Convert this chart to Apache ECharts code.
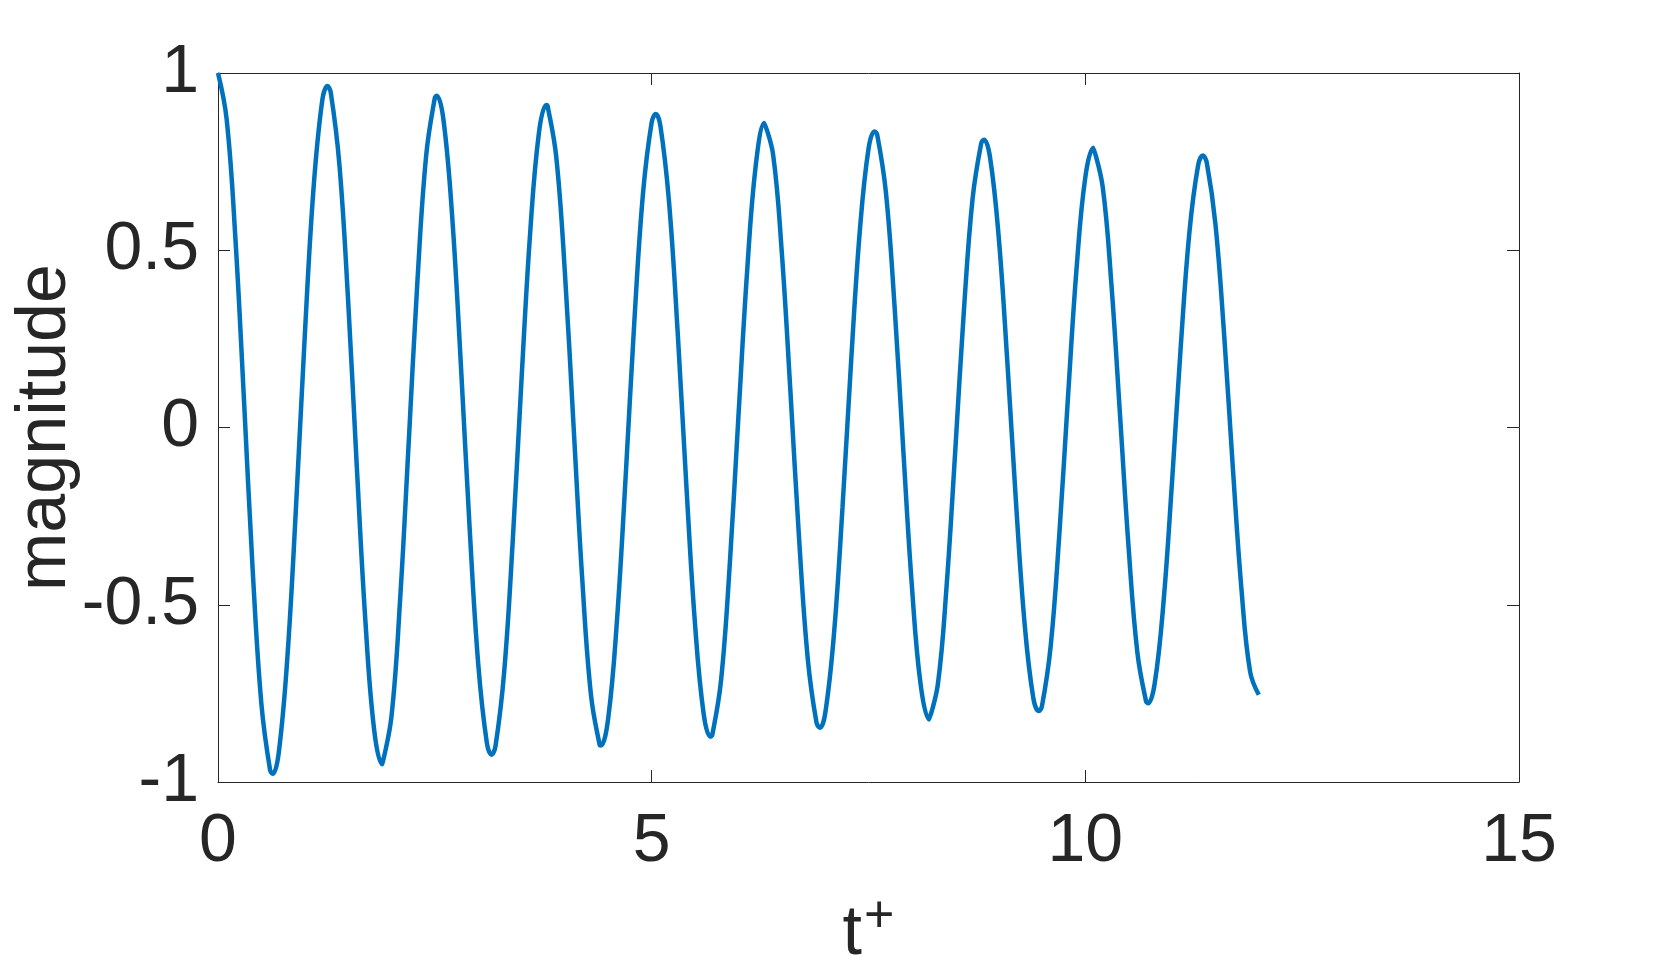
<!DOCTYPE html>
<html>
<head>
<meta charset="utf-8">
<script src="https://cdn.jsdelivr.net/npm/echarts@6/dist/echarts.min.js"></script>
<style>
  html, body { margin: 0; padding: 0; background: #fff; }
  #chart { width: 1680px; height: 974px; }
</style>
</head>
<body>
<div id="chart"></div>
<script>
// sample times (t+) and magnitudes
var tGrid = [
  0, 0.1, 0.2, 0.3, 0.4, 0.5, 0.6, 0.7, 0.8, 0.9,
  1.0, 1.1, 1.2, 1.3, 1.4, 1.5, 1.6, 1.7, 1.8, 1.9,
  2.0, 2.1, 2.2, 2.3, 2.4, 2.5, 2.6, 2.7, 2.8, 2.9,
  3.0, 3.1, 3.2, 3.3, 3.4, 3.5, 3.6, 3.7, 3.8, 3.9,
  4.0, 4.1, 4.2, 4.3, 4.4, 4.5, 4.6, 4.7, 4.8, 4.9,
  5.0, 5.1, 5.2, 5.3, 5.4, 5.5, 5.6, 5.7, 5.8, 5.9,
  6.0, 6.1, 6.2, 6.3, 6.4, 6.5, 6.6, 6.7, 6.8, 6.9,
  7.0, 7.1, 7.2, 7.3, 7.4, 7.5, 7.6, 7.7, 7.8, 7.9,
  8.0, 8.1, 8.2, 8.3, 8.4, 8.5, 8.6, 8.7, 8.8, 8.9,
  9.0, 9.1, 9.2, 9.3, 9.4, 9.5, 9.6, 9.7, 9.8, 9.9,
  10.0, 10.1, 10.2, 10.3, 10.4, 10.5, 10.6, 10.7, 10.8, 10.9,
  11.0, 11.1, 11.2, 11.3, 11.4, 11.5, 11.6, 11.7, 11.8, 11.9,
  12.0
];
var magGrid = [
  1.000, 0.869, 0.536, 0.076, -0.402, -0.779, -0.966, -0.918, -0.648, -0.222,
  0.256, 0.670, 0.919, 0.945, 0.741, 0.359, -0.109, -0.548, -0.852, -0.949,
  -0.815, -0.484, -0.037, 0.416, 0.767, 0.930, 0.867, 0.595, 0.179, -0.278,
  -0.666, -0.890, -0.898, -0.688, -0.312, 0.138, 0.552, 0.831, 0.907, 0.763,
  0.435, 0.002, -0.429, -0.754, -0.895, -0.818, -0.544, -0.139, 0.298, 0.660,
  0.861, 0.852, 0.637, 0.268, -0.164, -0.555, -0.809, -0.866, -0.713, -0.388,
  0.030, 0.438, 0.739, 0.859, 0.770, 0.495, 0.101, -0.315, -0.653, -0.832,
  -0.808, -0.588, -0.227, 0.188, 0.555, 0.786, 0.826, 0.665, 0.344, -0.059,
  -0.446, -0.723, -0.824, -0.724, -0.449, -0.067, 0.330, 0.645, 0.802, 0.764,
  0.541, 0.188, -0.209, -0.554, -0.763, -0.786, -0.618, -0.302, 0.086, 0.452,
  0.706, 0.788, 0.679, 0.406, 0.035, -0.342, -0.635, -0.772, -0.722, -0.497,
  -0.152, 0.228, 0.551, 0.739, 0.747, 0.574, 0.263, -0.111, -0.456, -0.689,
  -0.754
];
// peaks and troughs
var peakT = [0.631, 1.262, 1.893, 2.523, 3.154, 3.785, 4.416, 5.047, 5.677,
  6.308, 6.939, 7.570, 8.201, 8.832, 9.463, 10.094, 10.724, 11.355];
var peakMag = [-0.977, 0.963, -0.950, 0.936, -0.923, 0.910, -0.897, 0.884, -0.872,
  0.859, -0.847, 0.835, -0.824, 0.812, -0.800, 0.789, -0.778, 0.767];

var xTicks = [0, 5, 10, 15];
var yTicks = [-1, -0.5, 0, 0.5, 1];

var points = [];
tGrid.forEach(function (t, i) { points.push([t, magGrid[i]]); });
peakT.forEach(function (t, i) { points.push([t, peakMag[i]]); });
points.sort(function (a, b) { return a[0] - b[0]; });

var axisColor = '#262626';
var font = '"Liberation Sans", Arial, Helvetica, sans-serif';

function frameX(pos, labels) {
  return {
    type: 'value',
    position: pos,
    min: xTicks[0],
    max: xTicks[xTicks.length - 1],
    interval: 5,
    splitLine: { show: false },
    axisLine: { show: true, onZero: false, lineStyle: { color: axisColor, width: 1 } },
    axisTick: { show: true, inside: true, length: 12, lineStyle: { color: axisColor, width: 1 } },
    axisLabel: { show: labels, color: axisColor, fontSize: 68, fontFamily: font, margin: 26 }
  };
}
function frameY(pos, labels) {
  return {
    type: 'value',
    position: pos,
    min: yTicks[0],
    max: yTicks[yTicks.length - 1],
    interval: 0.5,
    splitLine: { show: false },
    axisLine: { show: true, onZero: false, lineStyle: { color: axisColor, width: 1 } },
    axisTick: { show: true, inside: true, length: 12, lineStyle: { color: axisColor, width: 1 } },
    axisLabel: { show: labels, color: axisColor, fontSize: 68, fontFamily: font, margin: 19 }
  };
}

var xMain = frameX('bottom', true);
xMain.name = 't{sup|+}';
xMain.nameLocation = 'middle';
xMain.nameGap = 110;
xMain.nameTextStyle = {
  color: axisColor, fontSize: 70, fontFamily: font,
  rich: { sup: { fontSize: 52, fontFamily: font, color: axisColor, verticalAlign: 'top', padding: [0, 0, 34, 2] } }
};
var yMain = frameY('left', true);
yMain.name = 'magnitude';
yMain.nameLocation = 'middle';
yMain.nameGap = 137;
yMain.nameMoveOverlap = false;
yMain.nameTextStyle = { color: axisColor, fontSize: 70, fontFamily: font };

var chart = echarts.init(document.getElementById('chart'));
chart.setOption({
  backgroundColor: '#fff',
  animation: false,
  grid: { left: 218, right: 161, top: 73, bottom: 192, containLabel: false, outerBoundsMode: 'none' },
  xAxis: [xMain, frameX('top', false)],
  yAxis: [yMain, frameY('right', false)],
  series: [
    {
      type: 'line',
      xAxisIndex: 0,
      yAxisIndex: 0,
      data: points,
      showSymbol: false,
      smooth: 0.4,
      lineStyle: { color: '#0072BD', width: 4.5 },
      itemStyle: { color: '#0072BD' }
    }
  ]
});
</script>
</body>
</html>
